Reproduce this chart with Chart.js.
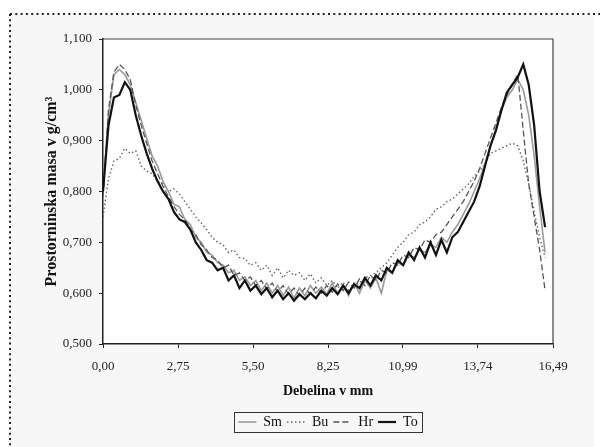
<!DOCTYPE html>
<html>
<head>
<meta charset="utf-8">
<script src="https://cdn.jsdelivr.net/npm/chart.js@4/dist/chart.umd.min.js"></script>
<style>
  html, body { margin: 0; padding: 0; background: #fff; }
</style>
</head>
<body>
<canvas id="chart" width="600" height="447"></canvas>
<script>
// thickness positions (mm)
const thickness = [
  0.0, 0.2, 0.4, 0.6, 0.8, 1.0, 1.2, 1.4, 1.6, 1.8,
  2.0, 2.2, 2.4, 2.6, 2.8, 3.0, 3.2, 3.4, 3.6, 3.8,
  4.0, 4.2, 4.4, 4.6, 4.8, 5.0, 5.2, 5.4, 5.6, 5.8,
  6.0, 6.2, 6.4, 6.6, 6.8, 7.0, 7.2, 7.4, 7.6, 7.8,
  8.0, 8.2, 8.4, 8.6, 8.8, 9.0, 9.2, 9.4, 9.6, 9.8,
  10.0, 10.2, 10.4, 10.6, 10.8, 11.0, 11.2, 11.4, 11.6, 11.8,
  12.0, 12.2, 12.4, 12.6, 12.8, 13.0, 13.2, 13.4, 13.6, 13.8,
  14.0, 14.2, 14.4, 14.6, 14.8, 15.0, 15.2, 15.4, 15.6, 15.8,
  16.0, 16.2
];

const smValues = [
  0.800, 0.950, 1.030, 1.040, 1.030, 1.010, 0.975, 0.940, 0.905, 0.870,
  0.850, 0.820, 0.800, 0.775, 0.770, 0.745, 0.735, 0.710, 0.700, 0.680,
  0.675, 0.660, 0.655, 0.640, 0.645, 0.625, 0.632, 0.615, 0.625, 0.605,
  0.620, 0.600, 0.615, 0.595, 0.612, 0.590, 0.610, 0.595, 0.615, 0.600,
  0.612, 0.598, 0.620, 0.600, 0.615, 0.595, 0.620, 0.600, 0.625, 0.610,
  0.630, 0.600, 0.645, 0.640, 0.660, 0.655, 0.675, 0.670, 0.685, 0.680,
  0.695, 0.690, 0.710, 0.700, 0.720, 0.735, 0.755, 0.775, 0.800, 0.825,
  0.855, 0.890, 0.925, 0.960, 0.985, 1.000, 1.020, 1.000, 0.950, 0.870,
  0.770, 0.680
];

const buValues = [
  0.750, 0.825, 0.860, 0.865, 0.885, 0.875, 0.880, 0.850, 0.840, 0.835,
  0.820, 0.815, 0.800, 0.805, 0.795, 0.780, 0.765, 0.750, 0.738, 0.725,
  0.710, 0.700, 0.695, 0.680, 0.685, 0.670, 0.668, 0.655, 0.660, 0.645,
  0.655, 0.635, 0.650, 0.630, 0.645, 0.635, 0.640, 0.625, 0.638, 0.620,
  0.630, 0.615, 0.625, 0.610, 0.622, 0.605, 0.615, 0.620, 0.630, 0.635,
  0.640, 0.650, 0.660, 0.675, 0.690, 0.700, 0.715, 0.720, 0.735, 0.740,
  0.750, 0.765, 0.770, 0.780, 0.785, 0.795, 0.805, 0.815, 0.830, 0.840,
  0.855, 0.875, 0.880, 0.885, 0.890, 0.895, 0.890, 0.860, 0.815, 0.760,
  0.710, 0.670
];

const hrValues = [
  0.790, 0.960, 1.035, 1.050, 1.040, 1.020, 0.970, 0.930, 0.895, 0.860,
  0.835, 0.810, 0.790, 0.770, 0.755, 0.745, 0.725, 0.715, 0.695, 0.685,
  0.670, 0.665, 0.650, 0.655, 0.635, 0.640, 0.625, 0.632, 0.615, 0.625,
  0.608, 0.620, 0.602, 0.615, 0.598, 0.610, 0.595, 0.610, 0.598, 0.612,
  0.600, 0.615, 0.602, 0.618, 0.605, 0.622, 0.610, 0.628, 0.615, 0.635,
  0.625, 0.645, 0.640, 0.660, 0.655, 0.675, 0.670, 0.690, 0.685, 0.705,
  0.700, 0.715, 0.720, 0.735, 0.750, 0.765, 0.780, 0.800, 0.820, 0.845,
  0.875, 0.905, 0.935, 0.965, 0.990, 1.012, 1.030, 0.920, 0.815, 0.750,
  0.685, 0.605
];

const toValues = [
  0.800, 0.930, 0.985, 0.990, 1.015, 1.000, 0.950, 0.910, 0.875, 0.845,
  0.820, 0.800, 0.785, 0.760, 0.745, 0.740, 0.725, 0.700, 0.685, 0.665,
  0.660, 0.645, 0.650, 0.625, 0.635, 0.610, 0.625, 0.605, 0.615, 0.598,
  0.610, 0.592, 0.605, 0.588, 0.600, 0.585, 0.598, 0.588, 0.600, 0.590,
  0.605, 0.595, 0.610, 0.598, 0.615, 0.600, 0.618, 0.610, 0.630, 0.615,
  0.635, 0.625, 0.650, 0.640, 0.665, 0.655, 0.680, 0.665, 0.690, 0.670,
  0.700, 0.675, 0.705, 0.680, 0.710, 0.720, 0.740, 0.760, 0.780, 0.810,
  0.850, 0.890, 0.920, 0.960, 0.995, 1.010, 1.025, 1.050, 1.010, 0.930,
  0.800, 0.730
];

const xTicks = [0, 2.75, 5.50, 8.25, 10.99, 13.74, 16.49];

const comma = (v, d) => Number(v).toFixed(d).replace('.', ',');
const pts = vals => thickness.map((x, i) => ({ x, y: vals[i] }));

const framePlugin = {
  id: 'frame',
  beforeDraw(chart) {
    const { ctx, chartArea: a } = chart;
    ctx.save();
    ctx.fillStyle = '#f7f7f7';
    ctx.fillRect(10, 14, 584, 433);
    ctx.fillStyle = '#ffffff';
    ctx.fillRect(a.left, a.top, a.right - a.left, a.bottom - a.top);
    ctx.strokeStyle = '#222';
    ctx.lineWidth = 2;
    ctx.setLineDash([2, 3.3]);
    ctx.beginPath();
    ctx.moveTo(10, 14);
    ctx.lineTo(600, 14);
    ctx.moveTo(10, 14);
    ctx.lineTo(10, 447);
    ctx.stroke();
    ctx.restore();
  },
  afterDraw(chart) {
    const { ctx, chartArea: a } = chart;
    ctx.save();
    ctx.strokeStyle = '#444';
    ctx.lineWidth = 1.2;
    ctx.beginPath();
    ctx.moveTo(a.left, a.top);
    ctx.lineTo(a.right, a.top);
    ctx.lineTo(a.right, a.bottom);
    ctx.stroke();
    // frame round the legend
    const hb = chart.legend.legendHitBoxes;
    if (hb && hb.length) {
      const first = hb[0], last = hb[hb.length - 1];
      const l = first.left - 4, r = last.left + last.width + 5;
      const t = first.top - 3, b = first.top + first.height + 3;
      ctx.strokeStyle = '#333';
      ctx.lineWidth = 1;
      ctx.strokeRect(Math.round(l) + 0.5, Math.round(t) + 0.5, Math.round(r - l), Math.round(b - t));
    }
    ctx.restore();
  }
};

const serif = 'Liberation Serif';

new Chart(document.getElementById('chart'), {
  type: 'line',
  data: {
    datasets: [
      { label: 'Sm', data: pts(smValues), borderColor: '#9a9a9a', borderWidth: 1.6, order: 2 },
      { label: 'Bu', data: pts(buValues), borderColor: '#666', borderWidth: 1.4, borderDash: [1.5, 2.5], order: 3 },
      { label: 'Hr', data: pts(hrValues), borderColor: '#555', borderWidth: 1.3, borderDash: [6, 3], order: 1 },
      { label: 'To', data: pts(toValues), borderColor: '#111', borderWidth: 2.2, order: 0 }
    ]
  },
  options: {
    responsive: false,
    animation: false,
    elements: { point: { radius: 0 }, line: { tension: 0, fill: false } },
    layout: { padding: { left: 38, right: 47, top: 39, bottom: 8 } },
    scales: {
      x: {
        type: 'linear',
        min: 0,
        max: 16.49,
        afterBuildTicks: s => { s.ticks = xTicks.map(v => ({ value: v })); },
        afterFit: s => { s.height = 66; },
        grid: { drawOnChartArea: false, drawTicks: true, tickLength: 4, color: '#222' },
        border: { display: true, color: '#222', width: 1.5 },
        ticks: {
          padding: 11,
          color: '#222',
          maxRotation: 0,
          autoSkip: false,
          font: { family: serif, size: 13 },
          callback: v => comma(v, 2)
        },
        title: {
          display: true,
          text: 'Debelina v mm',
          color: '#111',
          padding: { top: 4, bottom: 10 },
          font: { family: serif, size: 14, weight: 'bold' }
        }
      },
      y: {
        min: 0.5,
        max: 1.1,
        afterFit: s => { s.width = 65; },
        grid: { drawOnChartArea: false, drawTicks: true, tickLength: 4, color: '#222' },
        border: { display: true, color: '#222', width: 1.5 },
        ticks: {
          stepSize: 0.1,
          padding: 7,
          color: '#222',
          font: { family: serif, size: 13 },
          callback: v => comma(v, 3)
        },
        title: {
          display: true,
          text: 'Prostorninska masa v g/cm³',
          color: '#111',
          font: { family: serif, size: 16, weight: 'bold' }
        }
      }
    },
    plugins: {
      legend: {
        position: 'bottom',
        fullSize: false,
        labels: {
          usePointStyle: true,
          pointStyle: 'line',
          pointStyleWidth: 18,
          boxHeight: 14,
          padding: 5,
          color: '#111',
          font: { family: serif, size: 14 },
          generateLabels: chart => {
            const items = Chart.defaults.plugins.legend.labels.generateLabels(chart);
            items.forEach(it => {
              const ds = chart.data.datasets[it.datasetIndex];
              it.lineDash = ds.borderDash || [];
              it.strokeStyle = ds.borderColor;
              it.lineWidth = ds.borderWidth;
            });
            return items.sort((a, b) => a.datasetIndex - b.datasetIndex);
          }
        }
      },
      tooltip: { enabled: false }
    }
  },
  plugins: [framePlugin]
});
</script>
</body>
</html>
